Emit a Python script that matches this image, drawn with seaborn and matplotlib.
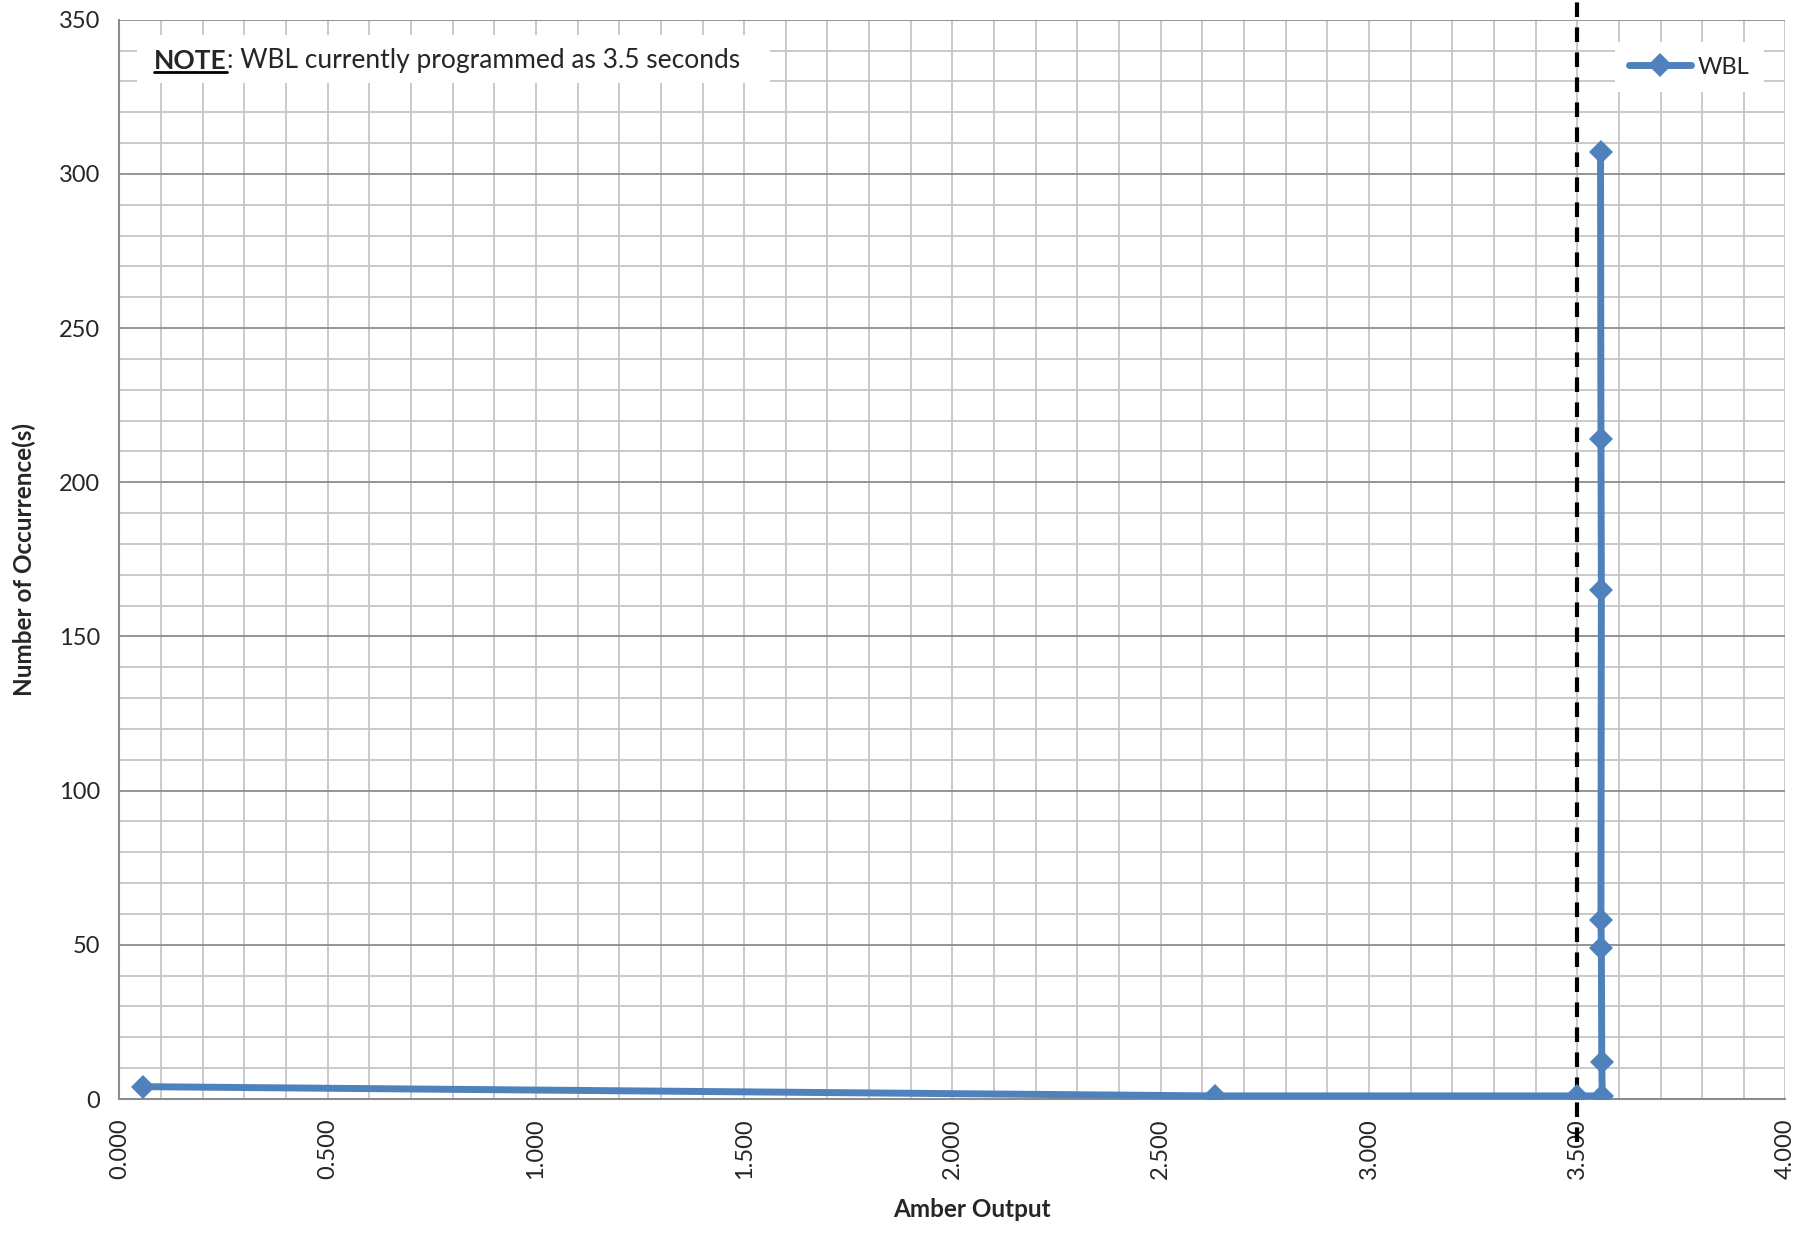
import numpy as np
import pandas as pd
import matplotlib.pyplot as plt
from matplotlib.ticker import MultipleLocator, FormatStrFormatter
from matplotlib.patches import Rectangle
from matplotlib.lines import Line2D
import seaborn as sns

sns.set_theme(style="white")
plt.rcParams['font.family'] = ['Lato', 'DejaVu Sans']

# WBL amber output (s) vs number of occurrences, in plotting order
amber = [0.056, 2.630, 3.500, 3.560, 3.559, 3.558, 3.557, 3.558, 3.557, 3.556]
occurrences = [4, 1, 1, 1, 12, 49, 58, 165, 214, 307]
wbl_setting = 3.5
note_label = "NOTE"
note_text = ": WBL currently programmed as 3.5 seconds"

df = pd.DataFrame({"Amber Output": amber, "Occurrences": occurrences})

blue = "#4F81BD"
fig = plt.figure(figsize=(18.18, 12.34), dpi=100)
ax = fig.add_axes([0.0657, 0.1094, 0.9164, 0.8746])

sns.lineplot(data=df, x="Amber Output", y="Occurrences", sort=False, estimator=None,
             color=blue, lw=5, marker="D", markersize=12, markeredgewidth=0,
             label="WBL", ax=ax, zorder=5)

ax.set_xlim(0, 4)
ax.set_ylim(0, 350)
ax.xaxis.set_major_locator(MultipleLocator(0.5))
ax.xaxis.set_minor_locator(MultipleLocator(0.1))
ax.yaxis.set_major_locator(MultipleLocator(50))
ax.yaxis.set_minor_locator(MultipleLocator(10))
ax.xaxis.set_major_formatter(FormatStrFormatter("%.3f"))

ax.grid(which="minor", axis="both", color="#c6c6c6", lw=1.3)
ax.grid(which="major", axis="x", color="#c6c6c6", lw=1.3)
ax.grid(which="major", axis="y", color="#8c8c8c", lw=1.3)
ax.set_axisbelow(True)

for s in ["top", "right"]:
    ax.spines[s].set_visible(False)
for s in ["left", "bottom"]:
    ax.spines[s].set_color("#8c8c8c")
    ax.spines[s].set_linewidth(1.5)

ax.tick_params(which="major", direction="out", length=8, width=1.3, color="#8c8c8c",
               labelsize=17, pad=6)
ax.tick_params(which="minor", length=0)
ax.tick_params(axis="x", labelrotation=90)

ax.set_xlabel("Amber Output", fontsize=17.5, fontweight="bold")
ax.xaxis.set_label_coords(0.512, -0.092)
ax.set_ylabel("Number of Occurrence(s)", fontsize=17.5, fontweight="bold", labelpad=16)

# WBL setting line, runs past the plot area
ax.plot([wbl_setting, wbl_setting], [-14, 356], color="black", lw=3,
        ls=(0, (3.5, 2.5)), clip_on=False, zorder=4)

# note box
ax.add_patch(Rectangle((0.0106, 0.941), 0.380, 0.045, transform=ax.transAxes,
                       facecolor="white", edgecolor="none", zorder=3))
t1 = ax.text(0.0208, 0.9545, note_label, transform=ax.transAxes, fontsize=19,
             fontweight="bold", va="baseline", ha="left", zorder=6)
ax.annotate(note_text, xy=(1, 0), xycoords=t1, fontsize=19, va="bottom", ha="left",
            zorder=6)

leg = ax.legend(loc="upper right", bbox_to_anchor=(0.994, 0.99), frameon=True,
                fontsize=17, handlelength=2.6, handletextpad=0.3, borderpad=0.6,
                fancybox=False)
leg.get_frame().set_edgecolor("none")
leg.get_frame().set_facecolor("white")
leg.get_frame().set_alpha(1)

fig.canvas.draw()
bb = t1.get_window_extent()
base = ax.transAxes.transform((0.0208, 0.9545))[1]
# underline just below the baseline of NOTE
yu = (base - 3.5) / fig.bbox.height
fig.add_artist(Line2D([bb.x0 / fig.bbox.width, bb.x1 / fig.bbox.width], [yu, yu],
                      color="black", lw=2, zorder=7))

fig.savefig("out.png", dpi=100)
